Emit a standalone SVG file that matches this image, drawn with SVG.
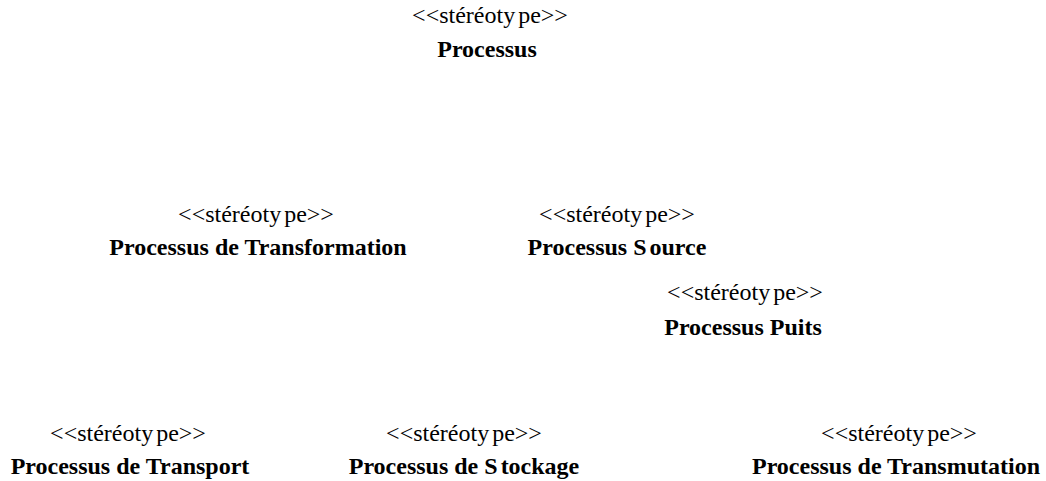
<svg xmlns="http://www.w3.org/2000/svg" width="1046" height="481" viewBox="0 0 1046 481">
<style>
.st{font-family:"Liberation Serif","Times New Roman",serif;font-size:24px;fill:#000;text-anchor:middle}
.nm{font-family:"Liberation Serif","Times New Roman",serif;font-size:24px;font-weight:bold;fill:#000;text-anchor:middle}
</style>
<rect width="1046" height="481" fill="#fff"/>
<g id="processus"><text class="st" x="490" y="23">&lt;&lt;stéréoty<tspan dx="3">pe&gt;&gt;</tspan></text><text class="nm" x="487" y="57">Processus</text></g>
<g id="transformation"><text class="st" x="256" y="222">&lt;&lt;stéréoty<tspan dx="3">pe&gt;&gt;</tspan></text><text class="nm" x="258" y="255">Processus de Transformation</text></g>
<g id="source"><text class="st" x="617" y="222">&lt;&lt;stéréoty<tspan dx="3">pe&gt;&gt;</tspan></text><text class="nm" x="617" y="255">Processus S<tspan dx="3">ource</tspan></text></g>
<g id="puits"><text class="st" x="745" y="300">&lt;&lt;stéréoty<tspan dx="3">pe&gt;&gt;</tspan></text><text class="nm" x="743" y="335">Processus Puits</text></g>
<g id="transport"><text class="st" x="128" y="441">&lt;&lt;stéréoty<tspan dx="3">pe&gt;&gt;</tspan></text><text class="nm" x="130" y="474">Processus de Transport</text></g>
<g id="stockage"><text class="st" x="464" y="441">&lt;&lt;stéréoty<tspan dx="3">pe&gt;&gt;</tspan></text><text class="nm" x="464" y="474">Processus de S<tspan dx="3">tockage</tspan></text></g>
<g id="transmutation"><text class="st" x="899" y="441">&lt;&lt;stéréoty<tspan dx="3">pe&gt;&gt;</tspan></text><text class="nm" x="896" y="474">Processus de Transmutation</text></g>
<g id="connectors"></g>
</svg>
